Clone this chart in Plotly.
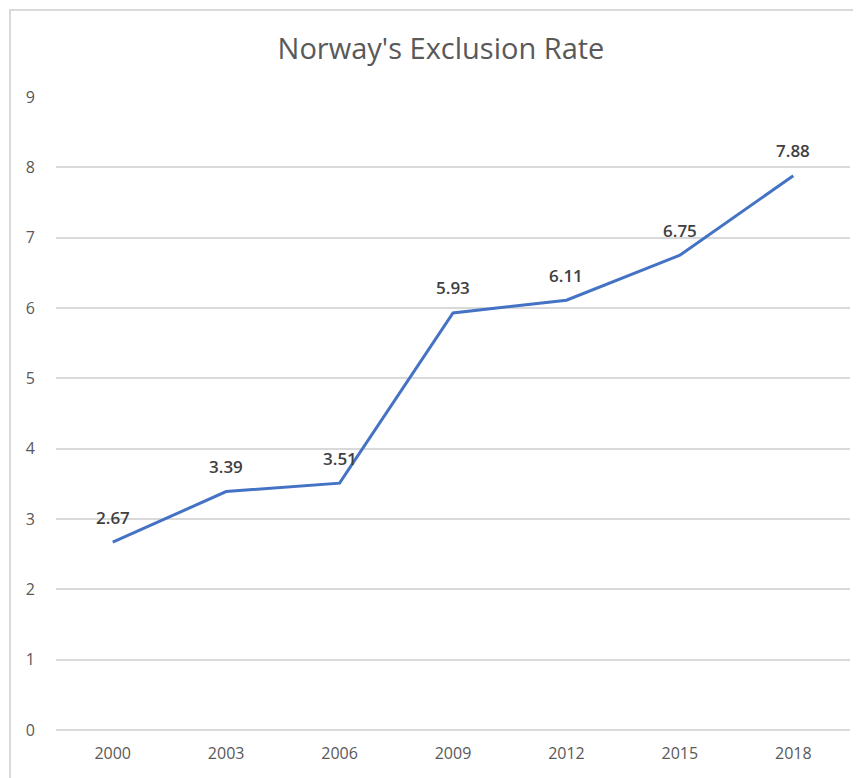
import plotly.graph_objects as go

years = ["2000", "2003", "2006", "2009", "2012", "2015", "2018"]
rates = [2.67, 3.39, 3.51, 5.93, 6.11, 6.75, 7.88]
labels = ["2.67", "3.39", "3.51", "5.93", "6.11", "6.75", "7.88"]
y_ticks = [0, 1, 2, 3, 4, 5, 6, 7, 8, 9]

W, H = 861, 778
OFF = 8  # browser body margin
L, R, T, B = 56 - OFF, 19, 97 - OFF, 56
pw = W - L - R
ph = H - T - B

fig = go.Figure()
fig.add_trace(go.Scatter(
    x=years, y=rates, mode="lines",
    line=dict(color="#4472C4", width=3),
    showlegend=False, hoverinfo="x+y",
))

annotations = [
    dict(x=i, y=yv, xref="x", yref="y", text=t, showarrow=False,
         yshift=25, xanchor="center", yanchor="middle",
         font=dict(family="Open Sans", size=17, color="#404040", weight=600))
    for i, (yv, t) in enumerate(zip(rates, labels))
]

def px_x(p):
    return (p - OFF - L) / pw

def px_y(p):
    return (H - B - (p - OFF)) / ph

fig.update_layout(
    width=W, height=H,
    margin=dict(l=L, r=R, t=T, b=B),
    paper_bgcolor="white", plot_bgcolor="white",
    title=dict(text="Norway's Exclusion Rate", x=(441 - OFF) / W, xanchor="center",
               y=1 - (49 - OFF) / H, yanchor="middle",
               font=dict(family="Open Sans", size=29, color="#595959")),
    xaxis=dict(type="category", range=[-0.5, 6.5], showgrid=False, showline=False,
               ticks="", ticklabelstandoff=12,
               tickfont=dict(family="Open Sans", size=16, color="#595959"),
               fixedrange=True),
    yaxis=dict(range=[0, 9], tickvals=y_ticks, showgrid=True, gridcolor="#d9d9d9",
               gridwidth=1.5, zeroline=True, zerolinecolor="#d9d9d9", zerolinewidth=1.5,
               showline=False, ticks="", ticklabelstandoff=20,
               tickfont=dict(family="Open Sans", size=16, color="#595959"),
               fixedrange=True),
    annotations=annotations,
    shapes=[dict(type="rect", xref="paper", yref="paper",
                 x0=px_x(10), x1=px_x(W + 30), y0=px_y(H + 30), y1=px_y(10),
                 line=dict(color="#d9d9d9", width=2), fillcolor="rgba(0,0,0,0)",
                 layer="below")],
)

fig.write_html("out.html")
